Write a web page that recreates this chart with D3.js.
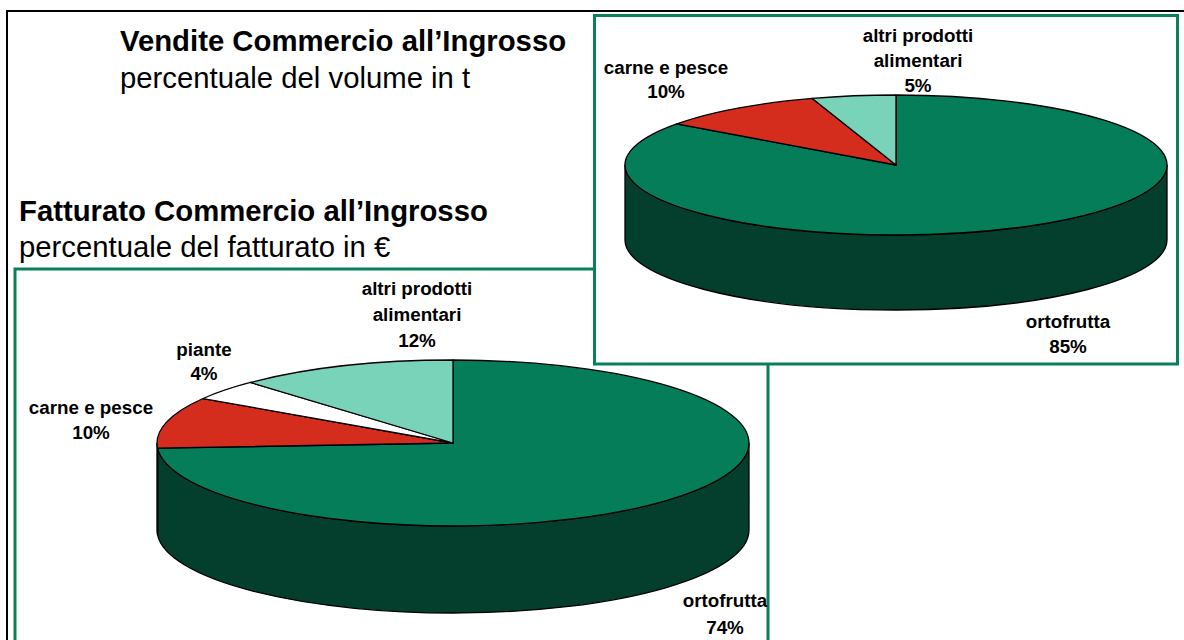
<!DOCTYPE html>
<html><head><meta charset="utf-8">
<script src="https://cdn.jsdelivr.net/npm/d3@7"></script>
<style>html,body{margin:0;padding:0;background:#fff}svg{display:block}text{font-family:"Liberation Sans",Arial,sans-serif;fill:#000}.lab{font-weight:700;font-size:18.8px;text-anchor:middle}</style>
</head><body><svg id="c" width="1184" height="640"></svg>
<script>
const categoriesVendite = ["ortofrutta","carne e pesce","altri prodotti alimentari"];
const valuesVendite = [85,10,5];
const categoriesFatturato = ["ortofrutta","carne e pesce","piante","altri prodotti alimentari"];
const valuesFatturato = [74,10,4,12];
const colorByCategory = {"ortofrutta":"#047d58","carne e pesce":"#d42d1e","piante":"#ffffff","altri prodotti alimentari":"#78d3b8"};
const sideByCategory = {"ortofrutta":"#033f2c","carne e pesce":"#033f2c","piante":"#808080","altri prodotti alimentari":"#3c6a5c"};

const svg = d3.select("#c");
const frameGreen = "#0a7f5c";

function drawPie(cats, vals, cx, cy, rx, ry, depth, labels){
  const k = ry/rx;
  const pie = d3.pie().sort(null).value(d=>d.v)(cats.map((c,i)=>({c,v:vals[i]})));
  const g = svg.append("g").attr("transform",`translate(${cx},${cy}) scale(1,${k})`);
  const d = depth/k;
  pie.forEach(s=>{
    const a0=Math.max(s.startAngle,Math.PI/2), a1=Math.min(s.endAngle,Math.PI*1.5);
    if(a1<=a0) return;
    const p=d3.path();
    p.arc(0,0,rx,a0-Math.PI/2,a1-Math.PI/2,false);
    p.arc(0,d,rx,a1-Math.PI/2,a0-Math.PI/2,true);
    p.closePath();
    g.append("path").attr("d",p.toString()).attr("fill",sideByCategory[s.data.c])
      .attr("stroke","#000").attr("stroke-width",1.3).attr("vector-effect","non-scaling-stroke");
  });
  const arc=d3.arc().innerRadius(0).outerRadius(rx);
  g.selectAll(null).data(pie).enter().append("path").attr("d",arc)
    .attr("fill",s=>colorByCategory[s.data.c]).attr("stroke","#000").attr("stroke-width",1.3)
    .attr("stroke-linejoin","round").attr("vector-effect","non-scaling-stroke");
  labels.forEach(l=>{
    const t=svg.append("text").attr("class","lab").attr("x",l.x).attr("y",l.y);
    l.lines.forEach((s,i)=>t.append("tspan").attr("x",l.x).attr("dy",i?l.lh:0).text(s));
  });
}

svg.append("path").attr("d","M7,640V11H1184").attr("fill","none").attr("stroke","#000").attr("stroke-width",2);

svg.append("path").attr("d","M15,640V269H768V640").attr("fill","#fff").attr("stroke",frameGreen).attr("stroke-width",3);
drawPie(categoriesFatturato,valuesFatturato,453,443,296,83,87,[
 {x:417,y:295,lh:26,lines:["altri prodotti","alimentari","12%"]},
 {x:204,y:356,lh:24,lines:["piante","4%"]},
 {x:91,y:414,lh:25,lines:["carne e pesce","10%"]},
 {x:725,y:607,lh:27,lines:["ortofrutta","74%"]}
]);

svg.append("rect").attr("x",594.5).attr("y",15.5).attr("width",583).attr("height",348.5).attr("fill","#fff").attr("stroke",frameGreen).attr("stroke-width",3);
drawPie(categoriesVendite,valuesVendite,896,165,271,70,75,[
 {x:918,y:42,lh:25,lines:["altri prodotti","alimentari","5%"]},
 {x:666,y:74,lh:24,lines:["carne e pesce","10%"]},
 {x:1068,y:328,lh:25,lines:["ortofrutta","85%"]}
]);

const titles=[
 {x:120,y:51,t:"Vendite Commercio all’Ingrosso",b:1},
 {x:120,y:88,t:"percentuale del volume in t",b:0},
 {x:19,y:221,t:"Fatturato Commercio all’Ingrosso",b:1},
 {x:19,y:257,t:"percentuale del fatturato in €",b:0}
];
svg.selectAll(null).data(titles).enter().append("text").attr("x",d=>d.x).attr("y",d=>d.y)
 .attr("font-size",29.3).attr("font-weight",d=>d.b?700:400).text(d=>d.t);
</script></body></html>
